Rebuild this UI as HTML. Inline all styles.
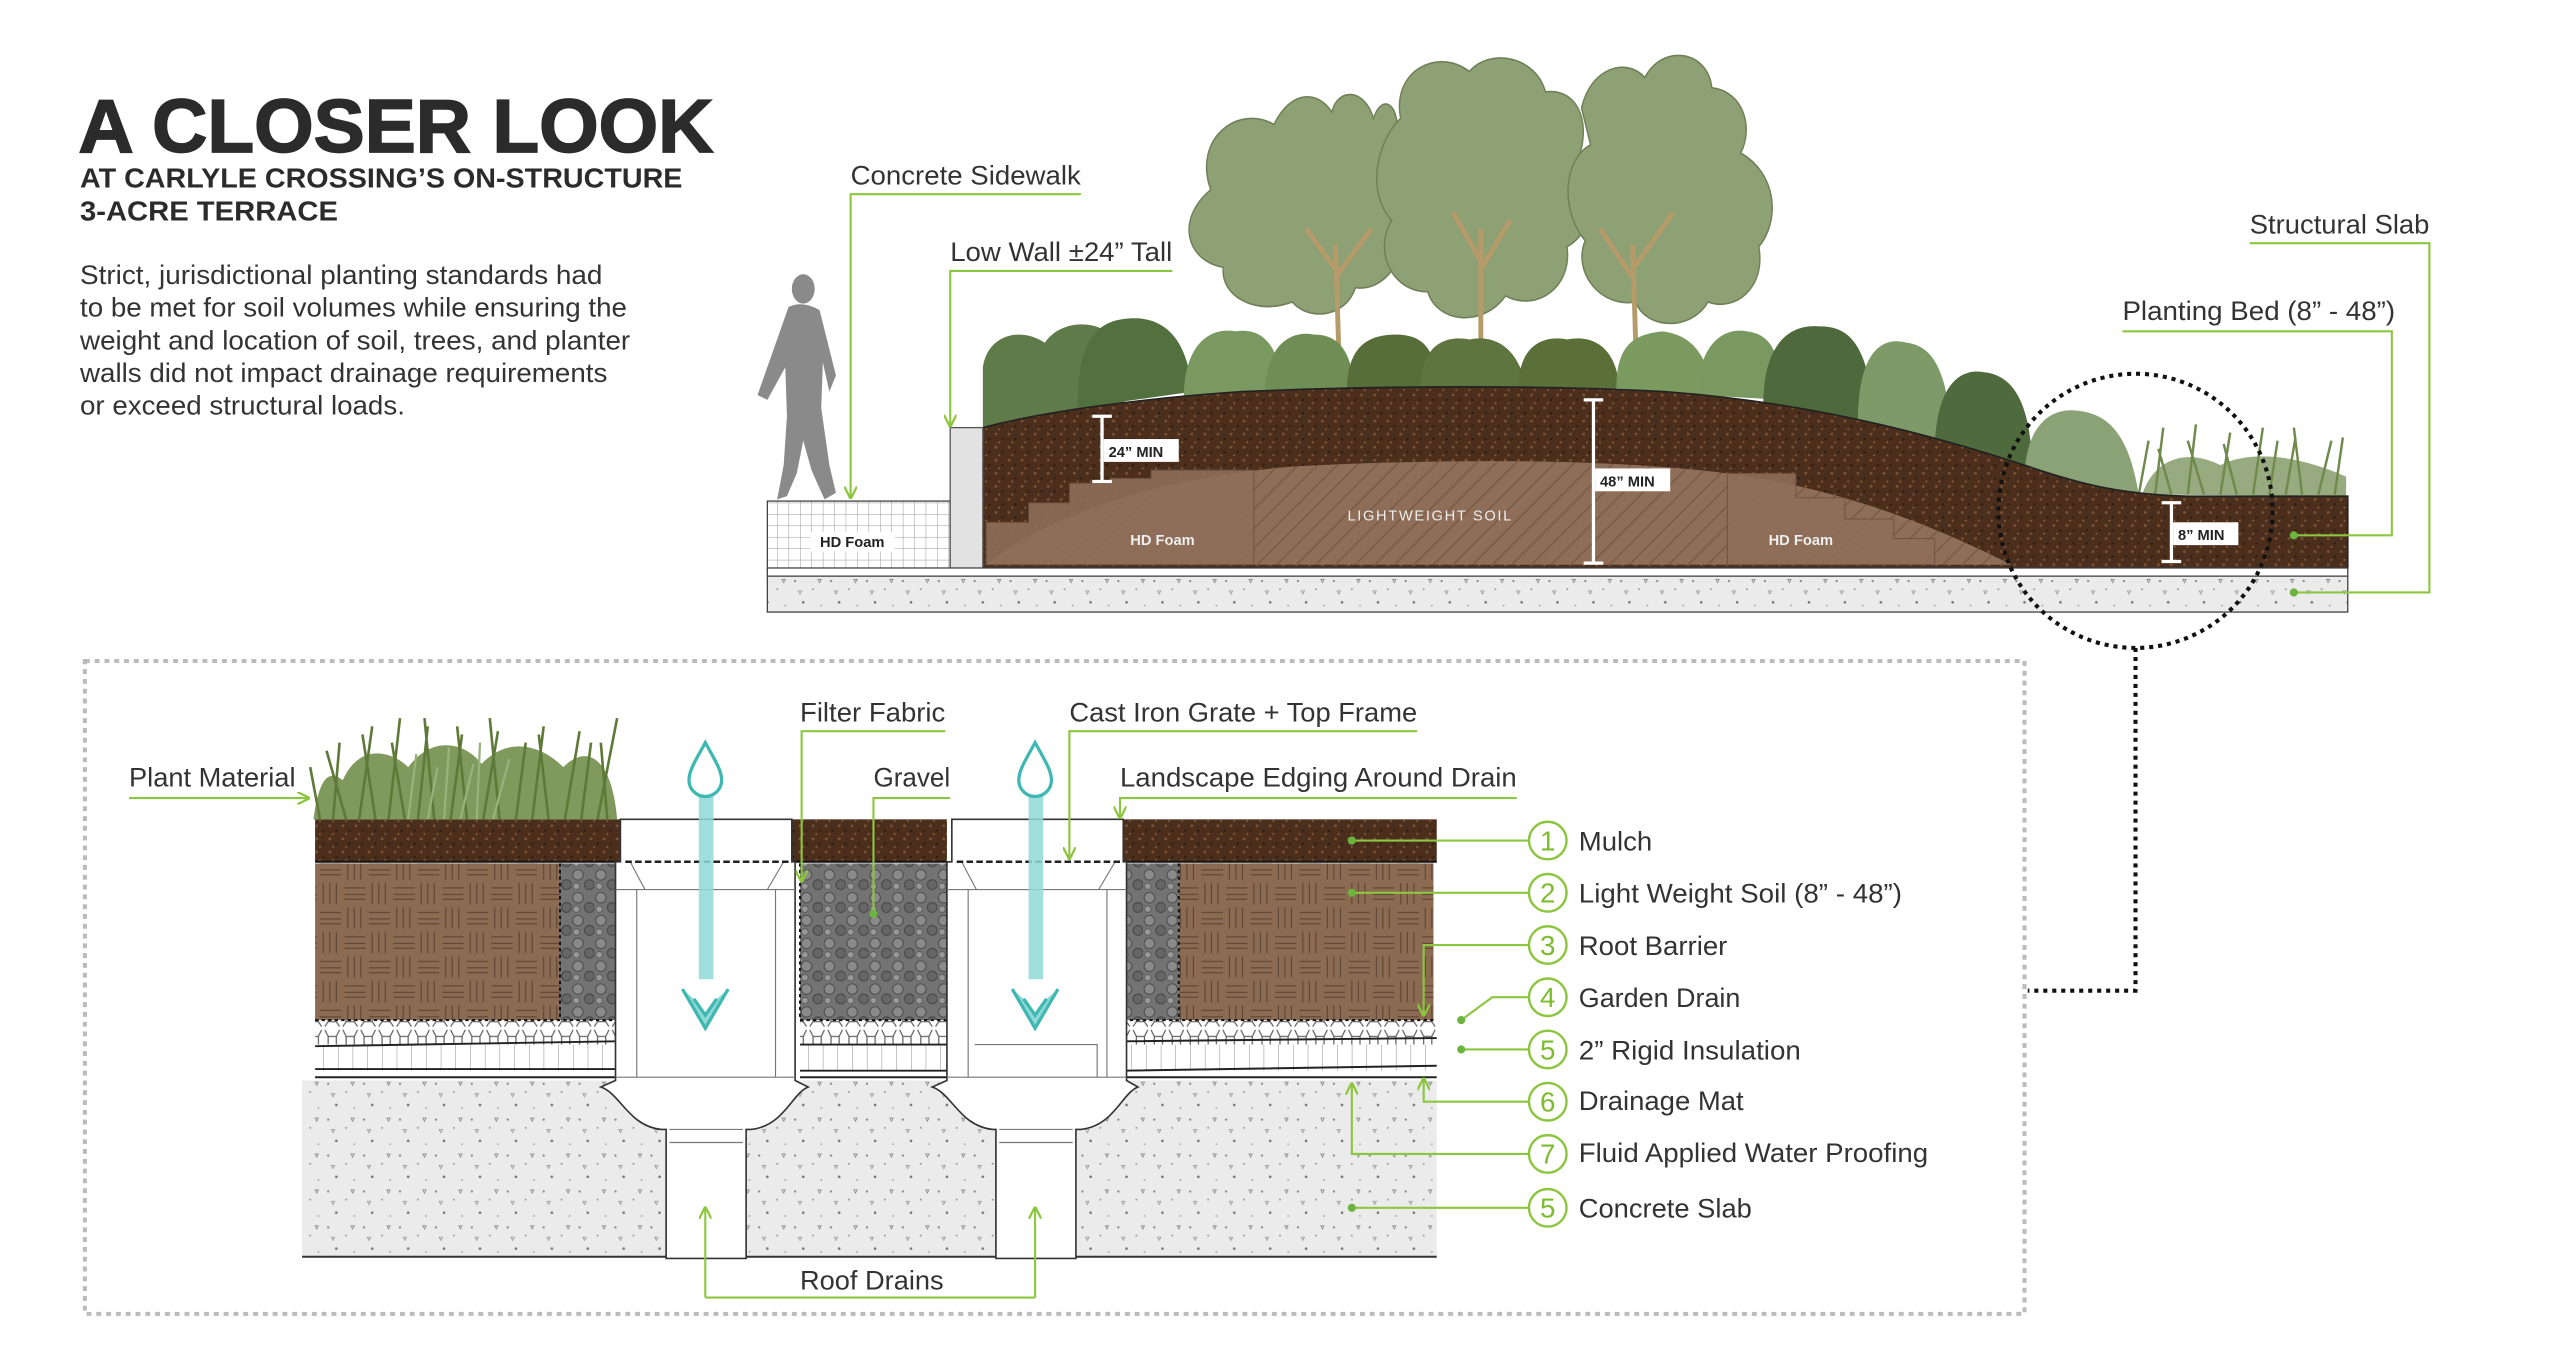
<!DOCTYPE html>
<html><head><meta charset="utf-8"><style>
html,body{margin:0;padding:0;background:#fff;overflow:hidden;}
svg{display:block;}
text{font-family:"Liberation Sans",sans-serif;}
</style></head><body>
<svg width="2560" height="1371" viewBox="0 0 1568 840" preserveAspectRatio="none" xmlns="http://www.w3.org/2000/svg">
<defs>
<pattern id="mulch" width="8" height="8" patternUnits="userSpaceOnUse">
<rect width="8" height="8" fill="#4b2e1c"/><circle cx="2" cy="2" r="0.9" fill="#7a5236"/><circle cx="6" cy="5" r="0.7" fill="#2e1b10"/><circle cx="4" cy="7" r="0.6" fill="#8a6040"/>
</pattern>
<pattern id="brick" width="30" height="30" patternUnits="userSpaceOnUse">
<rect width="30" height="30" fill="#8c6b53"/>
<g stroke="#5e4533" stroke-width="0.7" fill="none">
<path d="M1,4H14M1,8H14M1,11H14M18,1V14M22,1V14M26,1V14M16,19H29M16,23H29M16,26H29M3,16V29M7,16V29M11,16V29"/>
</g></pattern>
<pattern id="lw" width="12" height="12" patternUnits="userSpaceOnUse">
<rect width="12" height="12" fill="#8e6e58"/><path d="M0,12L12,0M-3,3L3,-3M9,15L15,9" stroke="#7a5c48" stroke-width="1"/>
</pattern>
<pattern id="gravel" width="14" height="14" patternUnits="userSpaceOnUse">
<rect width="14" height="14" fill="#737373"/><circle cx="4" cy="4" r="3.2" fill="#8a8a8a" stroke="#4a4a4a" stroke-width="0.6"/><circle cx="11" cy="10" r="3" fill="#666" stroke="#444" stroke-width="0.6"/><circle cx="3" cy="11" r="2" fill="#999" stroke="#555" stroke-width="0.5"/>
</pattern>
<pattern id="conc" width="22" height="22" patternUnits="userSpaceOnUse">
<rect width="22" height="22" fill="#ebebeb"/><circle cx="3" cy="4" r="0.7" fill="#888"/><circle cx="14" cy="9" r="0.6" fill="#999"/><circle cx="8" cy="17" r="0.8" fill="#777"/><circle cx="19" cy="19" r="0.5" fill="#999"/><path d="M17,3l2,0l-1,2z" fill="none" stroke="#888" stroke-width="0.5"/><path d="M5,10l2,0l-1,2z" fill="none" stroke="#999" stroke-width="0.5"/>
</pattern>
<pattern id="grid" width="7" height="7" patternUnits="userSpaceOnUse">
<rect width="7" height="7" fill="#fff"/><path d="M0,0H7M0,0V7" stroke="#999" stroke-width="0.6"/>
</pattern>
<pattern id="vgrid" width="9" height="20" patternUnits="userSpaceOnUse">
<rect width="9" height="20" fill="#fff"/><path d="M0,0V20" stroke="#888" stroke-width="0.6"/>
</pattern>
<pattern id="hex" width="11" height="15" patternUnits="userSpaceOnUse">
<rect width="11" height="15" fill="#fff"/><path d="M1,1L3,5V11L1,14M10,1L8,5V11L10,14M3,5H8M3,11H8" stroke="#555" stroke-width="0.7" fill="none"/>
</pattern>
<marker id="ar" viewBox="0 0 10 10" refX="9" refY="5" markerWidth="6" markerHeight="6" orient="auto"><path d="M0,0L10,5L0,10" fill="none" stroke="#8cc63f" stroke-width="1.8"/></marker>
</defs>

<text x="48" y="93" font-size="46" font-weight="bold" fill="#2b2b2b" stroke="#2b2b2b" stroke-width="1" textLength="389" lengthAdjust="spacingAndGlyphs">A CLOSER LOOK</text>
<text x="49" y="115" font-size="17" font-weight="bold" fill="#2b2b2b" textLength="369" lengthAdjust="spacingAndGlyphs">AT CARLYLE CROSSING’S ON-STRUCTURE</text>
<text x="49" y="135" font-size="17" font-weight="bold" fill="#2b2b2b" textLength="158" lengthAdjust="spacingAndGlyphs">3-ACRE TERRACE</text>
<g font-size="16.5" fill="#333">
<text x="49" y="174" textLength="320" lengthAdjust="spacingAndGlyphs">Strict, jurisdictional planting standards had</text>
<text x="49" y="194" textLength="335" lengthAdjust="spacingAndGlyphs">to be met for soil volumes while ensuring the</text>
<text x="49" y="214" textLength="337" lengthAdjust="spacingAndGlyphs">weight and location of soil, trees, and planter</text>
<text x="49" y="234" textLength="323" lengthAdjust="spacingAndGlyphs">walls did not impact drainage requirements</text>
<text x="49" y="254" textLength="199" lengthAdjust="spacingAndGlyphs">or exceed structural loads.</text>
</g>

<g fill="#8a8a8a">
<ellipse cx="492" cy="177" rx="7" ry="9"/>
<path d="M483,188 Q492,184 502,190 L512,230 L508,240 L504,222 L503,250 L508,285 L512,302 L505,306 L497,288 L492,270 L488,290 L482,304 L476,306 L480,285 L482,255 L481,225 L470,245 L464,242 Z"/>
</g>

<!-- Trees -->
<g fill="#8da174" stroke="#6f8058" stroke-width="0.8" transform="matrix(1.108 0 0 1.25 -95 -21.25)">
<path d="M755,110 C745,85 770,68 790,78 C800,60 815,62 822,72 C825,60 840,60 845,75 C850,62 860,68 858,85 C870,90 872,110 860,125 C865,145 850,160 835,158 C830,172 810,175 800,165 C780,172 760,162 762,148 C742,145 735,125 755,110Z"/>
<path d="M860,75 C855,52 880,40 898,52 C910,40 935,45 940,62 C960,60 965,80 958,95 C972,105 968,130 952,138 C955,158 935,170 918,162 C905,178 880,175 875,160 C855,160 845,140 855,125 C840,110 848,85 860,75Z"/>
<path d="M960,70 C965,50 985,45 995,55 C1005,38 1030,42 1032,60 C1050,62 1055,80 1048,92 C1068,102 1070,125 1058,138 C1062,158 1045,170 1030,165 C1020,180 995,178 990,165 C970,168 955,150 962,135 C948,120 950,95 965,88 Z"/>
</g>
<g stroke="#b59a6a" stroke-width="3" fill="none">
<path d="M820,215 L818,150 M818,165 L800,140 M818,170 L840,140"/>
<path d="M907,215 L907,140 M907,160 L890,130 M907,165 L925,135"/>
<path d="M1002,215 L1000,150 M1000,170 L980,140 M1000,165 L1025,130"/>
</g>

<g>
<path d="M602,262 L602,225 C605,205 625,200 640,210 C650,195 675,195 685,210 L690,260 Z" fill="#5f7b4a"/>
<path d="M660,250 C660,210 670,195 695,195 C715,195 728,210 730,240 Z" fill="#53703f"/>
<path d="M725,245 C725,212 740,200 757,203 C775,200 785,215 785,240 Z" fill="#7a9960"/>
<path d="M775,242 C775,212 790,202 805,205 C820,205 828,215 830,240 Z" fill="#6f8e56"/>
<path d="M825,240 C825,215 835,205 855,205 C870,205 880,212 880,238 Z" fill="#586e3a"/>
<path d="M870,238 C870,212 885,205 900,208 C915,205 930,212 935,238 Z" fill="#5f7540"/>
<path d="M930,238 C930,212 945,205 960,208 C975,205 990,212 992,238 Z" fill="#5a7038"/>
<path d="M990,238 C990,212 1000,205 1018,203 C1035,205 1045,215 1050,242 Z" fill="#7b9a60"/>
<path d="M1040,242 C1040,212 1055,200 1070,203 C1085,205 1090,215 1092,245 Z" fill="#7a9960"/>
<path d="M1080,248 C1080,212 1095,198 1115,200 C1135,200 1145,215 1148,258 Z" fill="#4e6a3c"/>
<path d="M1138,258 C1138,220 1150,205 1168,210 C1185,212 1195,230 1195,278 Z" fill="#7d9a68"/>
<path d="M1185,278 C1185,240 1198,225 1215,228 C1235,230 1245,250 1245,295 Z" fill="#4f6b3d"/>
<path d="M1240,295 C1240,262 1255,248 1275,252 C1295,255 1305,272 1310,303 Z" fill="#8aa276"/>
</g>
<path d="M1312,303 C1320,280 1340,275 1360,285 C1380,275 1410,280 1437,292 L1437,304 Z" fill="#7e9660" opacity="0.8"/>
<g stroke="#6f8a4c" stroke-width="1.5" fill="none">
<path d="M1310,303 L1316,270 M1320,303 L1325,262 M1330,303 L1322,275 M1340,303 L1345,260 M1350,303 L1340,270 M1360,303 L1366,265 M1370,303 L1362,272 M1380,303 L1386,262 M1390,303 L1395,270 M1400,303 L1406,268 M1410,303 L1405,262 M1420,303 L1428,270 M1430,303 L1435,268"/>
</g>

<path d="M602,262 C640,252 700,244 760,240 C850,236 950,236 1020,240 C1100,246 1170,262 1240,285 C1275,297 1300,303 1340,304 L1438,304 L1438,348 L602,348 Z" fill="url(#mulch)" stroke="#222" stroke-width="1"/>
<path d="M604,346 C640,318 700,294 790,286 C860,282 960,280 1040,288 C1120,296 1180,320 1232,346 Z" fill="url(#lw)"/>
<path d="M604,346 L604,320 L630,320 L630,308 L655,308 L655,296 L680,296 L680,293 L705,293 L705,288 L768,288 L768,346 Z" fill="#8e6e58" stroke="#6a5040" stroke-width="0.6" opacity="0.9"/>
<path d="M1058,290 L1100,290 L1100,305 L1130,305 L1130,318 L1160,318 L1160,330 L1185,330 L1185,346 L1058,346 Z" fill="#8e6e58" stroke="#6a5040" stroke-width="0.6" opacity="0.9"/>
<g font-size="9" font-weight="bold" fill="#eee" text-anchor="middle">
<text x="712" y="334">HD Foam</text>
<text x="1103" y="334">HD Foam</text>
<text x="876" y="319" font-weight="normal" letter-spacing="1">LIGHTWEIGHT SOIL</text>
</g>
<rect x="470" y="307" width="112" height="43" fill="url(#grid)" stroke="#444" stroke-width="0.8"/>
<rect x="496" y="326" width="52" height="12" fill="#fff"/>
<text x="522" y="335" font-size="9" font-weight="bold" fill="#222" text-anchor="middle">HD Foam</text>
<rect x="582" y="262" width="20" height="88" fill="#e2e2e2" stroke="#555" stroke-width="0.8"/>
<rect x="470" y="348" width="968" height="5" fill="#fff" stroke="#444" stroke-width="0.8"/>
<rect x="470" y="353" width="968" height="22" fill="url(#conc)" stroke="#444" stroke-width="0.8"/>

<g stroke="#fff" stroke-width="2">
<path d="M675,255V295M669,255H681M669,295H681"/>
<path d="M976,245V345M970,245H982M970,345H982"/>
<path d="M1330,308V344M1324,308H1336M1324,344H1336"/>
</g>
<g font-size="9" font-weight="bold" fill="#222">
<rect x="676" y="269" width="46" height="14" fill="#fff"/><text x="679" y="280">24” MIN</text>
<rect x="977" y="287" width="46" height="14" fill="#fff"/><text x="980" y="298">48” MIN</text>
<rect x="1331" y="320" width="40" height="14" fill="#fff"/><text x="1334" y="331">8” MIN</text>
</g>

<circle cx="1308" cy="313" r="84" fill="none" stroke="#111" stroke-width="2.5" stroke-dasharray="2.5 3"/>
<path d="M1308,397 V607 H1242" fill="none" stroke="#111" stroke-width="2.5" stroke-dasharray="2.5 3"/>

<g font-size="16.5" fill="#333">
<text x="521" y="113" textLength="141" lengthAdjust="spacingAndGlyphs">Concrete Sidewalk</text>
<text x="582" y="160" textLength="136" lengthAdjust="spacingAndGlyphs">Low Wall ±24” Tall</text>
<text x="1378" y="143" textLength="110" lengthAdjust="spacingAndGlyphs">Structural Slab</text>
<text x="1300" y="196" textLength="167" lengthAdjust="spacingAndGlyphs">Planting Bed (8” - 48”)</text>
</g>
<g stroke="#8cc63f" stroke-width="1.3" fill="none">
<path d="M662,119H521V305" marker-end="url(#ar)"/>
<path d="M718,166H582V261" marker-end="url(#ar)"/>
<path d="M1378,149H1488V363H1405"/>
<path d="M1300,203H1465V328H1405"/>
</g>
<circle cx="1405" cy="363" r="2.5" fill="#6cb33f"/><circle cx="1405" cy="328" r="2.5" fill="#6cb33f"/>

<rect x="52" y="405" width="1188" height="400" fill="none" stroke="#bbb" stroke-width="2.5" stroke-dasharray="3 3"/>

<rect x="185" y="662" width="695" height="108" fill="url(#conc)"/>
<path d="M185,770H880" stroke="#333" stroke-width="1.2"/>
<rect x="193" y="625" width="184" height="15" fill="url(#hex)"/>
<rect x="490" y="625" width="90" height="15" fill="url(#hex)"/>
<rect x="688" y="625" width="192" height="15" fill="url(#hex)"/>
<rect x="193" y="640" width="184" height="16" fill="url(#vgrid)"/>
<rect x="490" y="640" width="90" height="16" fill="url(#vgrid)"/>
<rect x="688" y="640" width="192" height="16" fill="url(#vgrid)"/>
<g stroke="#222" stroke-width="1.2">
<path d="M193,641L377,638M490,640H580M688,638L880,636"/>
<path d="M193,655H377M490,656H580M688,656L880,653"/>
<path d="M193,660H377M490,660H580M688,660H880"/>
</g>
<rect x="193" y="502" width="187" height="26" fill="url(#mulch)"/>
<rect x="485" y="502" width="95" height="26" fill="url(#mulch)"/>
<rect x="688" y="502" width="192" height="26" fill="url(#mulch)"/>
<path d="M193,528H380M485,528H580M688,528H880" stroke="#111" stroke-width="1.2"/>
<rect x="193" y="529" width="150" height="96" fill="url(#brick)"/>
<rect x="722" y="529" width="156" height="96" fill="url(#brick)"/>
<rect x="343" y="529" width="34" height="96" fill="url(#gravel)"/>
<rect x="490" y="529" width="90" height="96" fill="url(#gravel)"/>
<rect x="688" y="529" width="34" height="96" fill="url(#gravel)"/>
<g stroke="#111" stroke-width="1.2" stroke-dasharray="2 2" fill="none">
<path d="M193,625H377M343,529V625M490,529V625H580V529M688,625H880M722,529V625M688,529V625"/>
</g>
<g fill="#fff" stroke="#333" stroke-width="1">
<path d="M380,502 V528 H377 V662 L368,666 C380,670 385,690 405,692 L408,692 V771 H457 V692 L460,692 C480,690 485,670 495,666 L487,662 V528 H485 V502 Z"/>
<path d="M583,502 V528 H580 V662 L571,666 C583,670 588,690 608,692 L610,692 V771 H659 V692 L662,692 C682,690 687,670 697,666 L690,662 V528 H688 V502 Z"/>
</g>
<g stroke="#777" stroke-width="0.7" fill="none">
<path d="M386,528L395,545H470L480,528M377,545H487M390,545V660M475,545V660M377,660H487M410,692H455M410,700H455"/>
<path d="M589,528L598,545H673L683,528M580,545H690M593,545V660M678,545V660M580,660H690M612,692H657M612,700H657M597,640H672V660"/>
</g>
<path d="M383,528H483M586,528H686" stroke="#222" stroke-width="1.5" stroke-dasharray="4 2"/>
<rect x="428" y="488" width="9" height="112" fill="#8fd9d6" opacity="0.85"/>
<rect x="630" y="488" width="9" height="112" fill="#8fd9d6" opacity="0.85"/>
<path d="M418,606 L432,630 L446,606 L439,612 L432,622 L425,612Z M620,606 L634,630 L648,606 L641,612 L634,622 L627,612Z" fill="#8fd9d6"/>
<g fill="none" stroke="#3fb8b2" stroke-width="2">
<path d="M432,455 C426,466 422,472 422,478 C422,484 427,488 432,488 C437,488 442,484 442,478 C442,472 438,466 432,455Z"/>
<path d="M634,455 C628,466 624,472 624,478 C624,484 629,488 634,488 C639,488 644,484 644,478 C644,472 640,466 634,455Z"/>
<path d="M418,606 L432,630 L446,606 M425,612 L432,622 L439,612"/>
<path d="M620,606 L634,630 L648,606 M627,612 L634,622 L641,612"/>
</g>

<path d="M192,502 C195,480 200,470 210,478 C220,455 240,460 250,470 C265,450 285,455 295,468 C310,452 330,455 345,470 C360,455 375,465 378,502 Z" fill="#7f9a5c"/>
<g stroke="#5f7a38" stroke-width="1.6" fill="none">
<path d="M196,502L190,470M204,502L208,455M212,502L200,460M220,502L228,445M230,502L222,450M238,502L245,440M248,502L240,455M256,502L262,445M266,502L260,440M276,502L283,450M286,502L280,445M296,502L305,448M306,502L300,440M316,502L322,455M326,502L333,445M336,502L330,450M346,502L355,448M356,502L362,455M366,502L378,440M372,502L368,455"/>
</g>
<g stroke="#98b27a" stroke-width="1.4" fill="none">
<path d="M250,502L255,462M262,502L268,470M272,502L275,458M282,502L290,468M292,502L294,455M302,502L312,465"/>
</g>

<g font-size="16.5" fill="#333">
<text x="79" y="482" textLength="102" lengthAdjust="spacingAndGlyphs">Plant Material</text>
<text x="490" y="442" textLength="89" lengthAdjust="spacingAndGlyphs">Filter Fabric</text>
<text x="655" y="442" textLength="213" lengthAdjust="spacingAndGlyphs">Cast Iron Grate + Top Frame</text>
<text x="535" y="482" textLength="47" lengthAdjust="spacingAndGlyphs">Gravel</text>
<text x="686" y="482" textLength="243" lengthAdjust="spacingAndGlyphs">Landscape Edging Around Drain</text>
<text x="490" y="790" textLength="88" lengthAdjust="spacingAndGlyphs">Roof Drains</text>
</g>
<g stroke="#8cc63f" stroke-width="1.3" fill="none">
<path d="M79,489H189" marker-end="url(#ar)"/>
<path d="M579,448H491V540" marker-end="url(#ar)"/>
<path d="M868,448H655V526" marker-end="url(#ar)"/>
<path d="M582,489H535V558"/>
<path d="M929,489H686V501" marker-end="url(#ar)"/>
<path d="M432,795V740" marker-end="url(#ar)"/>
<path d="M634,795V740" marker-end="url(#ar)"/>
<path d="M432,795H634"/>
</g>
<circle cx="535" cy="560" r="2.5" fill="#6cb33f"/>

<g stroke="#8cc63f" stroke-width="1.3" fill="none">
<path d="M936,515H828"/>
<path d="M936,547H828"/>
<path d="M936,579H872V622" marker-end="url(#ar)"/>
<path d="M936,611H914L895,625"/>
<path d="M936,643H895"/>
<path d="M936,675H872V661" marker-end="url(#ar)"/>
<path d="M936,707H828V664" marker-end="url(#ar)"/>
<path d="M936,740H828"/>
</g>
<g fill="#6cb33f">
<circle cx="828" cy="515" r="2.5"/><circle cx="828" cy="547" r="2.5"/><circle cx="895" cy="625" r="2.5"/><circle cx="895" cy="643" r="2.5"/><circle cx="828" cy="740" r="2.5"/>
</g>
<g fill="#fff" stroke="#8cc63f" stroke-width="1.5">
<circle cx="948" cy="515" r="11.5"/><circle cx="948" cy="547" r="11.5"/><circle cx="948" cy="579" r="11.5"/><circle cx="948" cy="611" r="11.5"/><circle cx="948" cy="643" r="11.5"/><circle cx="948" cy="675" r="11.5"/><circle cx="948" cy="707" r="11.5"/><circle cx="948" cy="740" r="11.5"/>
</g>
<g font-size="17" fill="#7dbb2f" text-anchor="middle">
<text x="948" y="521">1</text><text x="948" y="553">2</text><text x="948" y="585">3</text><text x="948" y="617">4</text><text x="948" y="649">5</text><text x="948" y="681">6</text><text x="948" y="713">7</text><text x="948" y="746">5</text>
</g>
<g font-size="16.5" fill="#333">
<text x="967" y="521" textLength="45" lengthAdjust="spacingAndGlyphs">Mulch</text>
<text x="967" y="553" textLength="198" lengthAdjust="spacingAndGlyphs">Light Weight Soil (8” - 48”)</text>
<text x="967" y="585" textLength="91" lengthAdjust="spacingAndGlyphs">Root Barrier</text>
<text x="967" y="617" textLength="99" lengthAdjust="spacingAndGlyphs">Garden Drain</text>
<text x="967" y="649" textLength="136" lengthAdjust="spacingAndGlyphs">2” Rigid Insulation</text>
<text x="967" y="680" textLength="101" lengthAdjust="spacingAndGlyphs">Drainage Mat</text>
<text x="967" y="712" textLength="214" lengthAdjust="spacingAndGlyphs">Fluid Applied Water Proofing</text>
<text x="967" y="746" textLength="106" lengthAdjust="spacingAndGlyphs">Concrete Slab</text>
</g>
</svg>
</body></html>
